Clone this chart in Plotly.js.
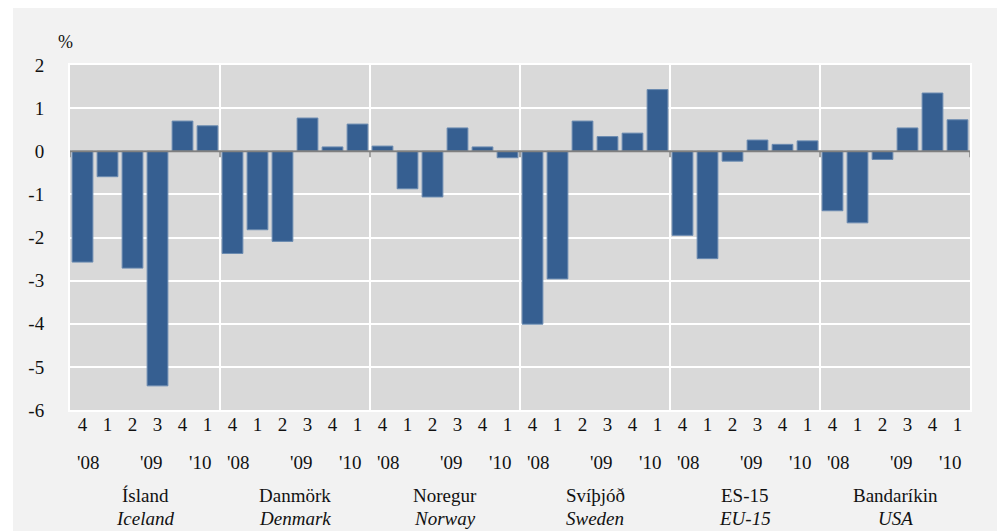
<!DOCTYPE html>
<html>
<head>
<meta charset="utf-8">
<script src="https://cdn.plot.ly/plotly-3.0.1.min.js"></script>
<style>
html,body{margin:0;padding:0;background:#ffffff;}
#chart{position:absolute;left:13px;top:8px;width:984px;height:523px;}
</style>
</head>
<body>
<div id="chart"></div>
<script>
// Data
var countries = ["Ísland", "Danmörk", "Noregur", "Svíþjóð", "ES-15", "Bandaríkin"];
var countriesEn = ["Iceland", "Denmark", "Norway", "Sweden", "EU-15", "USA"];
var quarterLabels = ["4", "1", "2", "3", "4", "1"];
var yearLabels = ["'08", "'09", "'10"];
var iceland = [-2.57, -0.59, -2.71, -5.44, 0.70, 0.59];
var denmark = [-2.37, -1.82, -2.09, 0.77, 0.10, 0.63];
var norway = [0.12, -0.87, -1.06, 0.54, 0.10, -0.15];
var sweden = [-4.01, -2.96, 0.70, 0.34, 0.42, 1.43];
var eu15 = [-1.95, -2.49, -0.23, 0.26, 0.16, 0.24];
var usa = [-1.38, -1.66, -0.19, 0.54, 1.35, 0.73];

var series = [iceland, denmark, norway, sweden, eu15, usa];
var nQ = quarterLabels.length;

var xs = [], ys = [], tickvals = [], ticktext = [];
series.forEach(function (s, g) {
  s.forEach(function (v, i) {
    xs.push(g * nQ + i);
    ys.push(v);
    tickvals.push(g * nQ + i);
    ticktext.push(quarterLabels[i]);
  });
});

var font = "'Liberation Serif', 'Times New Roman', serif";
var txtColor = "#111111";

var trace = {
  type: "bar",
  x: xs,
  y: ys,
  marker: {color: "#365f91", line: {color: "#6a8ab0", width: 1}},
  hoverinfo: "x+y"
};

var shapes = [];
var annotations = [];
var yearPos = [0.22, 2.72, 4.68];
for (var g = 0; g < series.length; g++) {
  if (g > 0) {
    shapes.push({type: "line", xref: "x", yref: "paper", x0: g * nQ - 0.5, x1: g * nQ - 0.5,
      y0: 0, y1: 1, line: {color: "#ffffff", width: 2}, layer: "between"});
  }
  yearLabels.forEach(function (yl, k) {
    annotations.push({xref: "x", yref: "paper", x: g * nQ + yearPos[k], y: -0.153, text: yl,
      showarrow: false, xanchor: "center", yanchor: "middle",
      font: {family: font, size: 19, color: txtColor}});
  });
  annotations.push({xref: "x", yref: "paper", x: g * nQ + 2.5, y: -0.247, text: countries[g],
    showarrow: false, xanchor: "center", yanchor: "middle",
    font: {family: font, size: 19, color: txtColor}});
  annotations.push({xref: "x", yref: "paper", x: g * nQ + 2.5, y: -0.314, text: countriesEn[g],
    showarrow: false, xanchor: "center", yanchor: "middle",
    font: {family: font, size: 19, color: txtColor, style: "italic"}});
}
// zero line on top of bars
shapes.push({type: "line", xref: "x", yref: "y", x0: -0.5, x1: series.length * nQ - 0.4, y0: 0, y1: 0,
  line: {color: "#808080", width: 2}, layer: "above"});
// small ticks on the zero line at group boundaries
for (var b = 0; b <= series.length; b++) {
  shapes.push({type: "line", xref: "x", yref: "y", ysizemode: "pixel", yanchor: 0,
    x0: b * nQ - 0.5, x1: b * nQ - 0.5, y0: 0, y1: -6,
    line: {color: "#808080", width: 1.5}, layer: "above"});
}
annotations.push({xref: "paper", yref: "paper", x: -0.0055, y: 1.066, text: "%", showarrow: false,
  xanchor: "center", yanchor: "middle", font: {family: font, size: 18, color: txtColor}});

var layout = {
  width: 984,
  height: 523,
  margin: {l: 57, r: 27, t: 57, b: 121, pad: 0},
  paper_bgcolor: "#f2f2f2",
  plot_bgcolor: "#d9d9d9",
  showlegend: false,
  bargap: 0.17,
  font: {family: font, size: 19, color: txtColor},
  xaxis: {
    range: [-0.5, series.length * nQ - 0.5],
    tickvals: tickvals,
    ticktext: ticktext,
    showgrid: false,
    zeroline: false,
    showline: true,
    mirror: true,
    linecolor: "#ffffff",
    linewidth: 2,
    ticks: "",
    ticklabelstandoff: -4,
    tickfont: {family: font, size: 19, color: txtColor},
    fixedrange: true
  },
  yaxis: {
    range: [-6, 2],
    tickvals: [-6, -5, -4, -3, -2, -1, 0, 1, 2],
    ticktext: ["-6", "-5", "-4", "-3", "-2", "-1", "0", "1", "2"],
    showgrid: true,
    gridcolor: "#ffffff",
    gridwidth: 2,
    zeroline: false,
    showline: true,
    mirror: true,
    linecolor: "#ffffff",
    linewidth: 2,
    ticks: "",
    ticklabelstandoff: 20,
    tickfont: {family: font, size: 19, color: txtColor},
    fixedrange: true
  },
  shapes: shapes,
  annotations: annotations
};

Plotly.newPlot("chart", [trace], layout, {displayModeBar: false, staticPlot: true});
</script>
</body>
</html>
